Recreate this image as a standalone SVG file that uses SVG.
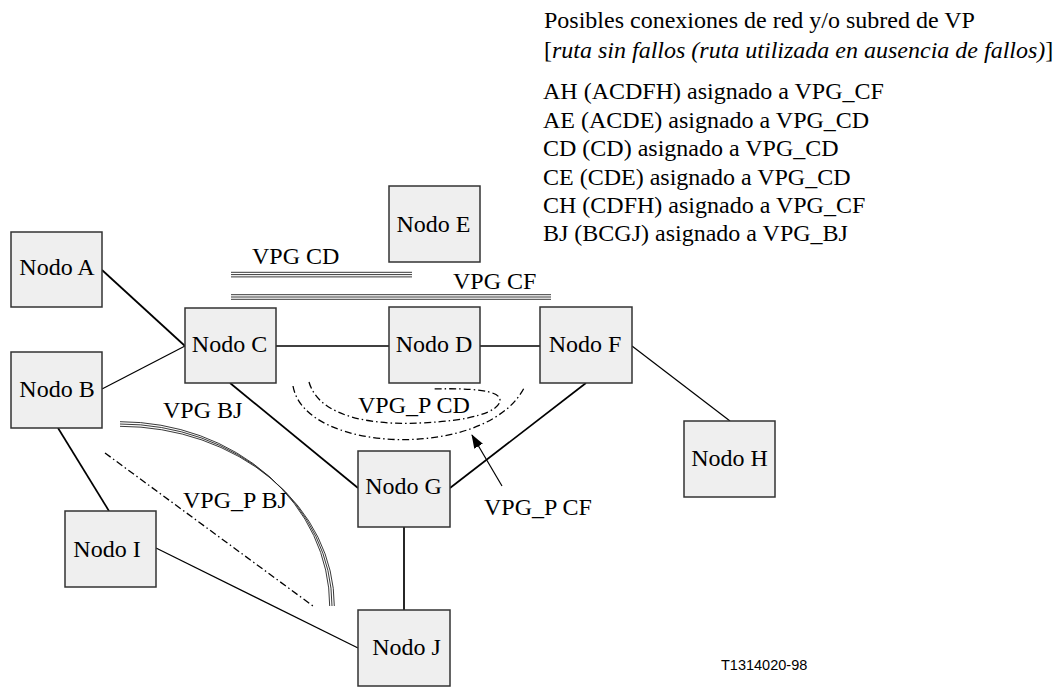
<svg xmlns="http://www.w3.org/2000/svg" width="1056" height="690" viewBox="0 0 1056 690">
<style>
.node rect{fill:#efefef;stroke:#333;stroke-width:1.5}
.node text,.lbl{font-family:"Liberation Serif","Times New Roman",serif;font-size:24px;fill:#000}
.it{font-style:italic}
.ln{stroke:#000;stroke-width:1.7;fill:none}
.thin{stroke:#000;stroke-width:1.2;fill:none}
.tri{stroke:#222;stroke-width:0.9;fill:none}
.dd{stroke:#000;stroke-width:1.3;fill:none;stroke-dasharray:7 3 1.5 3}
</style>
<defs>
<marker id="ah" markerWidth="14" markerHeight="10" refX="13" refY="5" orient="auto" markerUnits="userSpaceOnUse">
<path d="M0,0 L14,5 L0,10 Z" fill="#000"/>
</marker>
</defs>
<rect width="1056" height="690" fill="#fff"/>
<g id="connectors">
<line class="ln" x1="102" y1="270" x2="185" y2="346"/>
<line class="thin" x1="102" y1="389" x2="185" y2="346"/>
<line class="ln" x1="276" y1="346" x2="389" y2="346"/>
<line class="ln" x1="480" y1="346" x2="540" y2="346"/>
<line class="thin" x1="632" y1="346" x2="730" y2="421"/>
<line class="ln" x1="586" y1="383" x2="450" y2="488"/>
<line class="ln" x1="230" y1="383" x2="358" y2="488"/>
<line class="ln" x1="404" y1="527" x2="404" y2="610"/>
<line class="ln" x1="58" y1="428" x2="109" y2="511"/>
<line class="thin" x1="156" y1="548" x2="358" y2="648"/>
<g id="vpg-cd">
<line class="tri" x1="231" y1="272.3" x2="412" y2="272.3"/>
<line class="tri" x1="231" y1="274.6" x2="412" y2="274.6"/>
<line class="tri" x1="231" y1="276.9" x2="412" y2="276.9"/>
</g>
<g id="vpg-cf">
<line class="tri" x1="231" y1="294.7" x2="551" y2="294.7"/>
<line class="tri" x1="231" y1="297" x2="551" y2="297"/>
<line class="tri" x1="231" y1="299.3" x2="551" y2="299.3"/>
</g>
<g id="vpg-bj">
<path class="tri" d="M120,421.7 A209.7,184.3 0 0 1 329.7,606"/>
<path class="tri" d="M120,424 A212,182 0 0 1 332,606"/>
<path class="tri" d="M120,426.3 A214.3,179.7 0 0 1 334.3,606"/>
</g>
<line id="vpg-p-bj" class="dd" x1="105" y1="453" x2="313" y2="606"/>
<path id="vpg-p-cd" class="dd" d="M309,382 C320,420 380,425 420,423 C470,421 500,412 500,400 C500,390 470,388 432,389"/>
<path id="vpg-p-cf" class="dd" d="M293,386 C305,455 490,460 525,386"/>
<line class="thin" x1="502" y1="486" x2="472" y2="435" marker-end="url(#ah)"/>
</g>
<g id="labels">
<text class="lbl" x="252" y="264">VPG CD</text>
<text class="lbl" x="453" y="289">VPG CF</text>
<text class="lbl" x="163" y="418">VPG BJ</text>
<text class="lbl" x="183" y="508">VPG_P BJ</text>
<text class="lbl" x="358" y="413">VPG_P CD</text>
<text class="lbl" x="484" y="515">VPG_P CF</text>
</g>
<g id="legend">
<text class="lbl" x="544" y="28">Posibles conexiones de red y/o subred de VP</text>
<text class="lbl" x="544" y="58">[<tspan class="it">ruta sin fallos (ruta utilizada en ausencia de fallos)</tspan>]</text>
<text class="lbl" x="543" y="99">AH (ACDFH) asignado a VPG_CF</text>
<text class="lbl" x="543" y="128">AE (ACDE) asignado a VPG_CD</text>
<text class="lbl" x="543" y="156">CD (CD) asignado a VPG_CD</text>
<text class="lbl" x="543" y="185">CE (CDE) asignado a VPG_CD</text>
<text class="lbl" x="543" y="213">CH (CDFH) asignado a VPG_CF</text>
<text class="lbl" x="543" y="241">BJ (BCGJ) asignado a VPG_BJ</text>
</g>
<g id="nodeA" class="node"><rect x="11" y="232" width="91" height="75"/><text x="57" y="275" text-anchor="middle">Nodo A</text></g>
<g id="nodeB" class="node"><rect x="11" y="352" width="91" height="76"/><text x="57" y="397" text-anchor="middle">Nodo B</text></g>
<g id="nodeC" class="node"><rect x="185" y="308" width="91" height="75"/><text x="229.5" y="352" text-anchor="middle">Nodo C</text></g>
<g id="nodeD" class="node"><rect x="389" y="307" width="91" height="76"/><text x="434" y="352" text-anchor="middle">Nodo D</text></g>
<g id="nodeE" class="node"><rect x="389" y="186" width="91" height="76"/><text x="433.5" y="232" text-anchor="middle">Nodo E</text></g>
<g id="nodeF" class="node"><rect x="540" y="307" width="92" height="76"/><text x="585" y="352" text-anchor="middle">Nodo F</text></g>
<g id="nodeG" class="node"><rect x="358" y="451" width="92" height="76"/><text x="403.5" y="494" text-anchor="middle">Nodo G</text></g>
<g id="nodeH" class="node"><rect x="684" y="421" width="91" height="76"/><text x="729.5" y="466" text-anchor="middle">Nodo H</text></g>
<g id="nodeI" class="node"><rect x="65" y="511" width="91" height="76"/><text x="107" y="557" text-anchor="middle">Nodo I</text></g>
<g id="nodeJ" class="node"><rect x="358" y="610" width="92" height="76"/><text x="406.5" y="655" text-anchor="middle">Nodo J</text></g>
<text x="721" y="670" font-family="Liberation Sans,Arial,sans-serif" font-size="14.5">T1314020-98</text>
</svg>
